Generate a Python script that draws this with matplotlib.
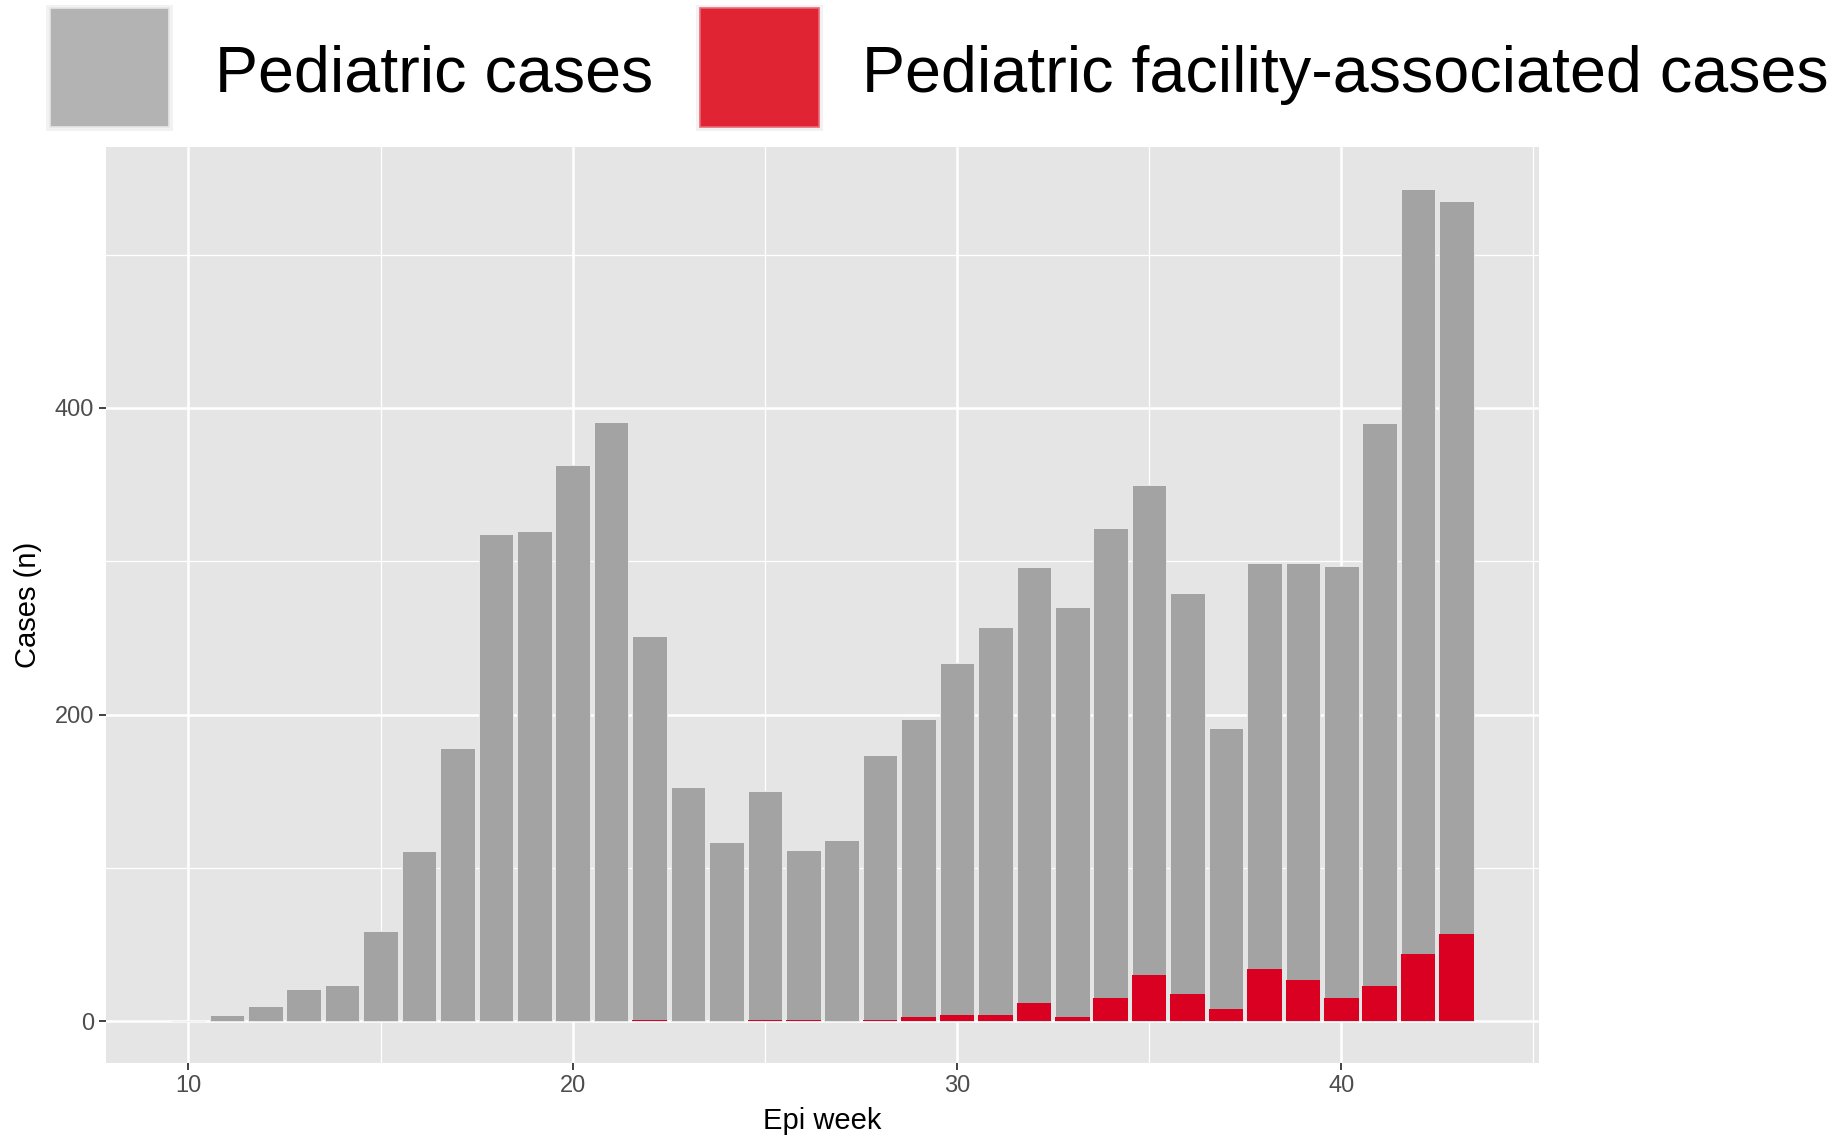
import matplotlib
matplotlib.use("Agg")
import matplotlib.pyplot as plt
from matplotlib.patches import Rectangle
from matplotlib.ticker import MultipleLocator

# weekly pediatric case counts
weeks = list(range(10, 44))
total_cases = [0, 4, 10, 21, 24, 59, 111, 178, 318, 320, 363, 391, 251, 153,
               117, 150, 112, 118, 174, 197, 234, 257, 296, 270, 322, 350,
               279, 191, 299, 299, 297, 390, 543, 535]
facility_cases = [0, 0, 0, 0, 0, 0, 0, 0, 0, 0, 0, 0, 1, 0,
                  0, 1, 1, 0, 1, 3, 4, 4, 12, 3, 15, 30,
                  18, 8, 34, 27, 15, 23, 44, 57]
legend_labels = ["Pediatric cases", "Pediatric facility-associated cases"]
bar_colors = ["#A3A3A3", "#DA0022"]
key_colors = ["#B3B3B3", "#E02433"]

plt.rcParams["font.family"] = ["Liberation Sans", "DejaVu Sans"]

W, H = 1849, 1136
fig = plt.figure(figsize=(W / 100, H / 100), dpi=100)
ax = fig.add_axes([106 / W, 1 - 1063 / H, (1539 - 106) / W, (1063 - 147) / H])
ax.set_facecolor("#E5E5E5")

ax.bar(weeks, total_cases, width=0.9, color=bar_colors[0],
       edgecolor="#EDEDED", linewidth=0.6, zorder=3)
ax.bar(weeks, facility_cases, width=0.9, color=bar_colors[1],
       edgecolor="none", zorder=4)

# ggplot style expansion (5% on each side)
xlo, xhi = min(weeks) - 0.45, max(weeks) + 0.45
pad = (xhi - xlo) * 0.05
ax.set_xlim(xlo - pad, xhi + pad)
ymax = max(total_cases)
ax.set_ylim(-ymax * 0.05, ymax * 1.05)

ax.xaxis.set_major_locator(MultipleLocator(10))
ax.xaxis.set_minor_locator(MultipleLocator(5))
ax.yaxis.set_major_locator(MultipleLocator(200))
ax.yaxis.set_minor_locator(MultipleLocator(100))
ax.grid(which="major", color="white", linewidth=1.8, zorder=0)
ax.grid(which="minor", color="white", linewidth=0.9, zorder=0)
ax.set_axisbelow(True)

for s in ax.spines.values():
    s.set_visible(False)
ax.tick_params(which="major", length=5, width=1.3, color="#333333",
               labelsize=17, labelcolor="#4D4D4D", pad=3.5)
ax.tick_params(which="minor", length=0)

ax.set_xlabel("Epi week", fontsize=21, color="black", labelpad=7)
ax.set_ylabel("Cases (n)", fontsize=21, color="black", labelpad=9)

# legend drawn by hand along the top, ggplot style
key_x = [50, 700]
text_x = [215, 862]
for kx, tx, col, lab in zip(key_x, text_x, key_colors, legend_labels):
    fig.add_artist(Rectangle(((kx - 4) / W, 1 - 131 / H), 127 / W, 126 / H,
                             transform=fig.transFigure, facecolor="#F2F2F2",
                             edgecolor="none"))
    fig.add_artist(Rectangle((kx / W, 1 - 127 / H), 119 / W, 119 / H,
                             transform=fig.transFigure, facecolor=col,
                             edgecolor="#E6E6E6" if col == key_colors[0] else "#E86A78",
                             linewidth=1.2))
    fig.text(tx / W, 1 - 92 / H, lab, fontsize=46.5, color="black",
             ha="left", va="baseline")

fig.savefig("out.png", dpi=100)
